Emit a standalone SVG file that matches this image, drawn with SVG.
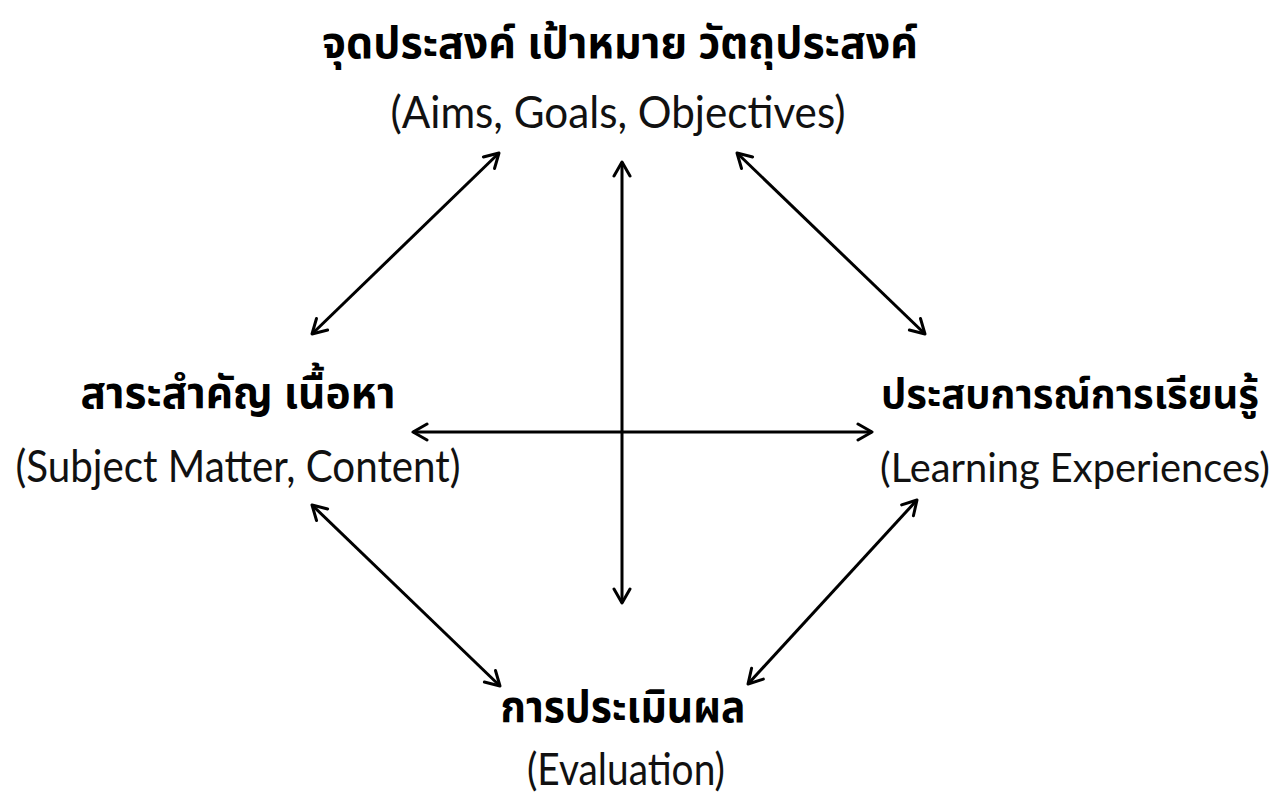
<svg xmlns="http://www.w3.org/2000/svg" width="1287" height="796" viewBox="0 0 1287 796">
<style>
.th{font-family:"Noto Sans Thai","Noto Sans","DejaVu Sans",sans-serif;font-weight:bold;font-size:44px;fill:#000;text-anchor:middle}
.en{font-family:"Lato","Noto Sans",sans-serif;font-weight:normal;font-size:44px;fill:#111;text-anchor:middle}
.sm{font-size:40px}
.c{stroke:#000;stroke-width:3;fill:none;marker-start:url(#ah);marker-end:url(#ah)}
</style>
<defs>
<marker id="ah" viewBox="0 0 20 20" refX="18" refY="10" markerWidth="20" markerHeight="20" markerUnits="userSpaceOnUse" orient="auto-start-reverse">
<path d="M4,2 L18,10 L4,18" fill="none" stroke="#000" stroke-width="3" stroke-linecap="round" stroke-linejoin="round"/>
</marker>
</defs>
<rect width="1287" height="796" fill="#fff"/>
<g id="connectors">
<line class="c" x1="312" y1="334" x2="499" y2="153"/>
<line class="c" x1="737" y1="153" x2="925" y2="334"/>
<line class="c" x1="622" y1="603" x2="622" y2="162"/>
<line class="c" x1="413" y1="432" x2="872" y2="432"/>
<line class="c" x1="312" y1="505" x2="500" y2="686"/>
<line class="c" x1="917" y1="500" x2="748" y2="684"/>
</g>
<g id="aims">
<text class="th" x="620" y="58" textLength="596" lengthAdjust="spacingAndGlyphs">จุดประสงค์ เป้าหมาย วัตถุประสงค์</text>
<text class="en" x="618" y="128" textLength="455" lengthAdjust="spacingAndGlyphs">(Aims, Goals, Objectives)</text>
</g>
<g id="content">
<text class="th" x="238" y="408" textLength="315" lengthAdjust="spacingAndGlyphs">สาระสำคัญ เนื้อหา</text>
<text class="en" x="238" y="482" textLength="445" lengthAdjust="spacingAndGlyphs">(Subject Matter, Content)</text>
</g>
<g id="experiences">
<text class="th sm" x="1070" y="408" textLength="378" lengthAdjust="spacingAndGlyphs">ประสบการณ์การเรียนรู้</text>
<text class="en sm" x="1075" y="482" textLength="390" lengthAdjust="spacingAndGlyphs">(Learning Experiences)</text>
</g>
<g id="evaluation">
<text class="th" x="623" y="722" textLength="245" lengthAdjust="spacingAndGlyphs">การประเมินผล</text>
<text class="en" x="626" y="785" textLength="198" lengthAdjust="spacingAndGlyphs">(Evaluation)</text>
</g>
</svg>
